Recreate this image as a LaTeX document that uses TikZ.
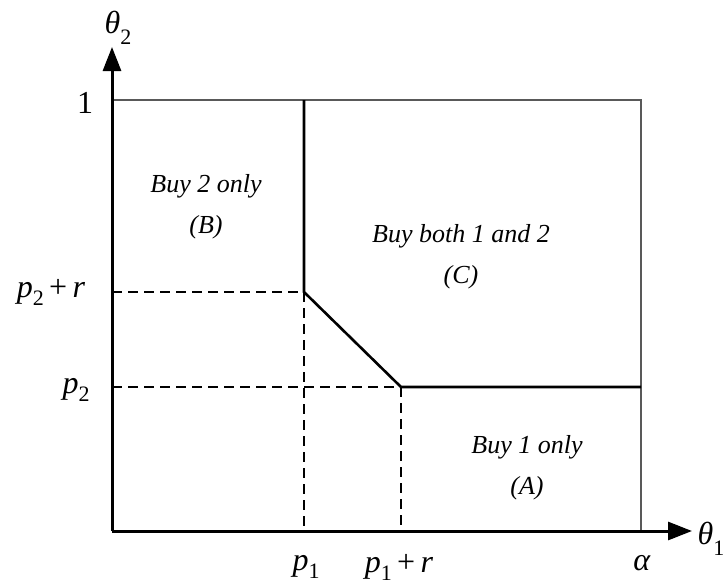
\documentclass[tikz,border=0pt]{standalone}
\usepackage{fontspec}
\setmainfont{Liberation Serif}
\usetikzlibrary{arrows.meta}
\newcommand\sbs[2][-8pt]{\raisebox{#1}{\fontsize{22}{22}\selectfont #2}}
\tikzset{
  axis/.style={line width=3pt,-{Triangle[length=24pt,width=18pt]}},
  frame/.style={line width=1.6pt,draw=black!65},
  bound/.style={line width=2.6pt},
  guide/.style={line width=2.5pt,dash pattern=on 10pt off 6pt},
  lbl/.style={font=\fontsize{32}{36}\selectfont, inner sep=0pt},
  region/.style={font=\fontsize{26}{41}\selectfont\itshape, inner sep=0pt, align=center}
}
\begin{document}
\begin{tikzpicture}[x=1pt,y=-1pt]
\useasboundingbox (0,0) rectangle (726,584);
\coordinate (O) at (112,531);
\coordinate (ytip) at (112,47);
\coordinate (xtip) at (692,531);
\coordinate (TL) at (112,100);
\coordinate (TR) at (641,100);
\coordinate (BR) at (641,531);
\coordinate (P1top) at (304,100);
\coordinate (K1) at (304,292);
\coordinate (K2) at (401,387);
\coordinate (Rend) at (641,387);
\coordinate (Y1) at (112,292);
\coordinate (Y2) at (112,387);
\coordinate (X1) at (304,531);
\coordinate (X2) at (401,531);
% frame
\draw[frame] (TL) -- (TR) -- (BR);
% dashed guides
\draw[guide] (Y1) -- (K1);
\draw[guide] (Y2) -- (K2);
\draw[guide] (K1) -- (X1);
\draw[guide] (K2) -- (X2);
% boundaries
\draw[bound] (P1top) -- (K1) -- (K2) -- (Rend);
% axes
\draw[axis] (O) -- (xtip);
\draw[axis] (O) -- (ytip);
% axis labels
\node[lbl] (th2) at (118,28) {\textit{θ}\sbs[-11pt]{2}};
\node[lbl] (th1) at (711,539) {\textit{θ}\sbs[-11pt]{1}};
\node[lbl] (one) at (85,103) {1};
\node[lbl] (p2r) at (51,292) {\textit{p}\sbs{2}\,+\,\textit{r}};
\node[lbl] (p2) at (76,390) {\textit{p}\sbs{2}};
\node[lbl] (p1) at (306,567) {\textit{p}\sbs{1}};
\node[lbl] (p1r) at (399,567) {\textit{p}\sbs{1}\,+\,\textit{r}};
\node[lbl] (al) at (642,563) {\textit{α}};
% regions
\node[region] (B) at (206,207) {Buy 2 only\\(B)};
\node[region] (C) at (461,257) {Buy both 1 and 2\\(C)};
\node[region] (A) at (527,468) {Buy 1 only\\(A)};
\end{tikzpicture}
\end{document}
